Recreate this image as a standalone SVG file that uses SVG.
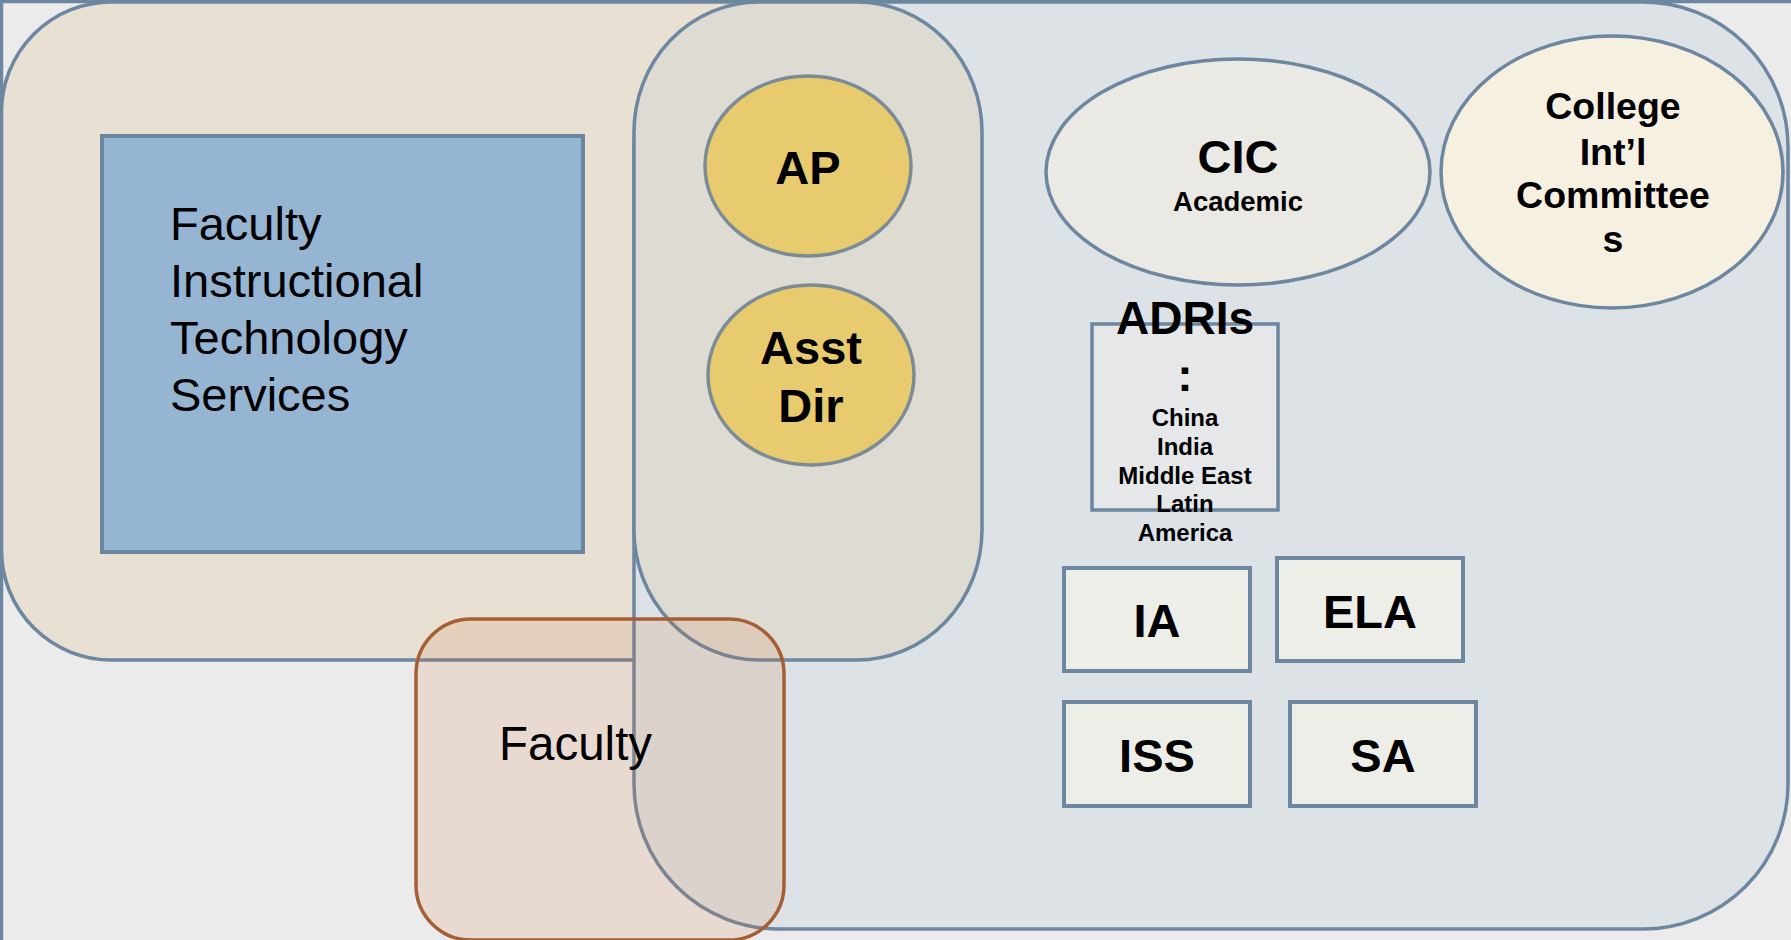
<svg xmlns="http://www.w3.org/2000/svg" width="1791" height="940" viewBox="0 0 1791 940">
<style>
.ln{stroke:#6d87a0;stroke-width:3.5}
.bx{fill:#eeeee8;stroke:#6d87a0;stroke-width:4}
.b{font-family:"Liberation Sans",Arial,sans-serif;font-weight:bold;fill:#000;text-anchor:middle}
.r{font-family:"Liberation Sans",Arial,sans-serif;fill:#000}
.yel{fill:#e8cb6e;stroke:#7b8c96;stroke-width:3.5}
</style>
<rect x="0" y="0" width="1791" height="940" fill="#ebebeb"/>
<g id="frame"><rect x="1.5" y="1.5" width="1830" height="980" fill="none" class="ln"/></g>
<g id="college-area"><rect x="1.5" y="2" width="980" height="658" rx="110" ry="110" fill="#e7e0d3" class="ln"/></g>
<g id="intl-area"><rect x="634" y="2" width="1154" height="927" rx="145" ry="145" fill="#dde2e6" class="ln"/></g>
<g id="overlap-area"><rect x="634" y="2" width="348" height="658" rx="125" ry="130" fill="#dedbd3" class="ln"/></g>
<g id="fits">
<rect x="102" y="136" width="481" height="416" fill="#95b5d3" stroke="#6b87a0" stroke-width="4"/>
<text class="r" font-size="47" x="170" y="240">Faculty</text>
<text class="r" font-size="47" x="170" y="297">Instructional</text>
<text class="r" font-size="47" x="170" y="354">Technology</text>
<text class="r" font-size="47" x="170" y="411">Services</text>
</g>
<g id="ap">
<ellipse cx="808" cy="166" rx="103" ry="90" class="yel"/>
<text class="b" font-size="47" x="808" y="184" fill="#1e1a0e">AP</text>
</g>
<g id="asst-dir">
<ellipse cx="811" cy="375" rx="103" ry="90" class="yel"/>
<text class="b" font-size="47" x="811" y="364" fill="#1e1a0e">Asst</text>
<text class="b" font-size="47" x="811" y="422" fill="#1e1a0e">Dir</text>
</g>
<g id="cic">
<ellipse cx="1238" cy="172" rx="192" ry="113" fill="#eae9e4" class="ln"/>
<text class="b" font-size="47" x="1238" y="173">CIC</text>
<text class="b" font-size="27.5" x="1238" y="211">Academic</text>
</g>
<g id="college-committees">
<ellipse cx="1612" cy="172" rx="171" ry="136" fill="#f6f0e0" class="ln"/>
<text class="b" font-size="37.5" x="1613" y="119">College</text>
<text class="b" font-size="37.5" x="1613" y="165">Int’l</text>
<text class="b" font-size="37.5" x="1613" y="208">Committee</text>
<text class="b" font-size="37.5" x="1613" y="252">s</text>
</g>
<g id="adris">
<rect x="1092" y="324" width="186" height="186" fill="#e5e7e8" class="ln"/>
<text class="b" font-size="46" x="1185" y="334">ADRIs</text>
<text class="b" font-size="46" x="1185" y="391">:</text>
<text class="b" font-size="24" x="1185" y="426">China</text>
<text class="b" font-size="24" x="1185" y="455">India</text>
<text class="b" font-size="24" x="1185" y="484">Middle East</text>
<text class="b" font-size="24" x="1185" y="512">Latin</text>
<text class="b" font-size="24" x="1185" y="541">America</text>
</g>
<g id="ia">
<rect x="1064" y="568" width="186" height="103" class="bx"/>
<text class="b" font-size="47" x="1157" y="637">IA</text>
</g>
<g id="ela">
<rect x="1277" y="558" width="186" height="103" class="bx"/>
<text class="b" font-size="47" x="1370" y="628">ELA</text>
</g>
<g id="iss">
<rect x="1064" y="702" width="186" height="104" class="bx"/>
<text class="b" font-size="47" x="1157" y="772">ISS</text>
</g>
<g id="sa">
<rect x="1290" y="702" width="186" height="104" class="bx"/>
<text class="b" font-size="47" x="1383" y="772">SA</text>
</g>
<g id="faculty">
<rect x="416" y="619" width="368" height="321" rx="55" ry="55" fill="#d6783a" fill-opacity="0.15" stroke="#a65f35" stroke-width="3.5"/>
<text class="r" font-size="47.5" x="499" y="760">Faculty</text>
</g>
<g id="connectors"></g>
</svg>
